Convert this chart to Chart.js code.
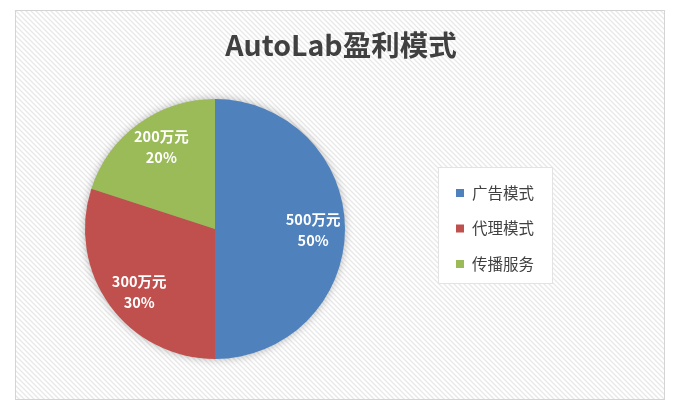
<!DOCTYPE html>
<html><head><meta charset="utf-8">
<script src="https://cdn.jsdelivr.net/npm/chart.js@4.4.1/dist/chart.umd.min.js"></script>
<style>html,body{margin:0;padding:0;background:#fff}#wrap{width:680px;height:412px}</style>
</head><body><div id="wrap"><canvas id="c" width="680" height="412"></canvas></div>
<script>
const titleText = 'AutoLab盈利模式';
const categories = ['广告模式', '代理模式', '传播服务'];
const amounts = [500, 300, 200];
const amountUnit = '万元';
const colors = ['#4F81BD', '#C0504D', '#9BBB59'];
const FONT = '"Noto Sans CJK SC", "Open Sans", sans-serif';

const total = amounts.reduce((a, b) => a + b, 0);

const pat = document.createElement('canvas');
pat.width = 5; pat.height = 5;
(function(){
  const p = pat.getContext('2d');
  p.fillStyle = '#ffffff'; p.fillRect(0,0,5,5);
  p.strokeStyle = '#e8e8e8'; p.lineWidth = 1.3;
  p.beginPath();
  p.moveTo(-1,-1); p.lineTo(6,6);
  p.moveTo(-1,4); p.lineTo(1,6);
  p.moveTo(4,-1); p.lineTo(6,1);
  p.stroke();
})();

const bgPlugin = {
  id: 'bg',
  beforeDraw(chart) {
    const ctx = chart.ctx;
    ctx.save();
    ctx.fillStyle = '#fff';
    ctx.fillRect(0,0,chart.width,chart.height);
    ctx.fillStyle = ctx.createPattern(pat, 'repeat');
    ctx.fillRect(15.5,10.5,649,389);
    ctx.strokeStyle = '#d4d4d4'; ctx.lineWidth = 1;
    ctx.strokeRect(15.5,10.5,649,389);
    ctx.fillStyle = '#404040';
    ctx.font = 'bold 28.5px ' + FONT;
    ctx.textAlign = 'center'; ctx.textBaseline = 'middle';
    ctx.fillText(titleText, 341, 45);
    ctx.restore();
  },
  beforeDatasetsDraw(chart) {
    const arc = chart.getDatasetMeta(0).data[0];
    if (!arc) return;
    const {x, y, outerRadius} = arc.getProps(['x','y','outerRadius'], true);
    const ctx = chart.ctx;
    ctx.save();
    ctx.shadowColor = 'rgba(0,0,0,0.35)';
    ctx.shadowBlur = 10;
    ctx.fillStyle = '#888';
    ctx.beginPath(); ctx.arc(x, y, outerRadius - 1, 0, Math.PI*2); ctx.fill();
    ctx.restore();
  },
  afterDatasetsDraw(chart) {
    const ctx = chart.ctx;
    const meta = chart.getDatasetMeta(0);
    ctx.save();
    ctx.fillStyle = '#ffffff';
    ctx.font = 'bold 14.5px ' + FONT;
    ctx.textAlign = 'center'; ctx.textBaseline = 'middle';
    meta.data.forEach((a, i) => {
      const {x, y, startAngle, endAngle, outerRadius} = a.getProps(['x','y','startAngle','endAngle','outerRadius'], true);
      const mid = (startAngle + endAngle) / 2 + (i === 0 ? 0 : (i === 1 ? -0.06 : 0.05));
      const r = outerRadius * 0.755;
      const cx = x + Math.cos(mid) * r, cy = y + Math.sin(mid) * r;
      ctx.fillText(amounts[i] + amountUnit, cx, cy - 10);
      ctx.fillText(Math.round(amounts[i] / total * 100) + '%', cx, cy + 11);
    });
    ctx.restore();
    ctx.save();
    ctx.fillStyle = '#ffffff';
    ctx.fillRect(438.5, 167.5, 114, 116);
    ctx.strokeStyle = '#e3e3e3'; ctx.lineWidth = 1;
    ctx.strokeRect(438.5, 167.5, 114, 116);
    ctx.font = '15.5px ' + FONT;
    ctx.textAlign = 'left'; ctx.textBaseline = 'middle';
    categories.forEach((c, i) => {
      const yy = 193 + i * 35.5;
      ctx.fillStyle = colors[i];
      ctx.fillRect(456, yy - 4, 8, 8);
      ctx.fillStyle = '#404040';
      ctx.fillText(c, 472, yy);
    });
    ctx.restore();
  }
};

new Chart(document.getElementById('c'), {
  type: 'pie',
  data: {
    labels: categories,
    datasets: [{ data: amounts, backgroundColor: colors, borderWidth: 0 }]
  },
  options: {
    responsive: false,
    animation: false,
    layout: { padding: { left: 85, right: 680 - 345, top: 99, bottom: 412 - 359 } },
    plugins: { legend: { display: false }, title: { display: false }, tooltip: { enabled: false } }
  },
  plugins: [bgPlugin]
});
</script>
</body></html>
